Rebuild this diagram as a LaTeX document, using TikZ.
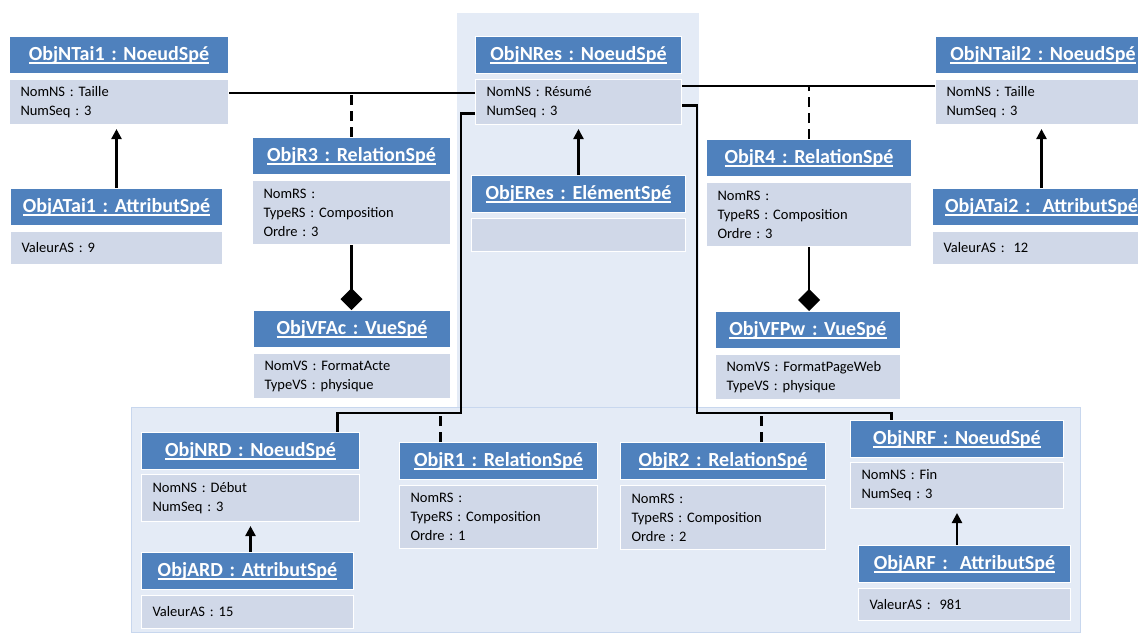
\documentclass[tikz,border=0pt]{standalone}
\usepackage{fontspec}
\setmainfont{Carlito}
\usepackage{xcolor}
\usepackage{tikz}
\usetikzlibrary{arrows.meta, positioning}

\definecolor{hdrblue}{HTML}{4F81BD}
\definecolor{bodyblue}{HTML}{D0D8E8}
\definecolor{panelblue}{HTML}{E4EBF6}
\definecolor{panelline}{HTML}{C8D7EE}

\frenchspacing
% fonts with tight word spaces
\newcommand{\hdrfont}{\fontsize{20}{24}\selectfont\bfseries\spaceskip=0.13em\relax}
\newcommand{\bdyfont}{\fontsize{14.5}{19}\selectfont\spaceskip=0.13em\relax}

% underlined object name
\newsavebox{\hdrbox}
\newcommand{\hdrtext}[1]{\sbox{\hdrbox}{#1}\rlap{\rule[-3.2pt]{\wd\hdrbox}{1.5pt}}\usebox{\hdrbox}}

\begin{document}
\begin{tikzpicture}[
    x=1pt, y=-1pt,
    hdr/.style={rectangle, fill=hdrblue, draw=white, line width=1pt, text=white,
                font=\hdrfont, text width=#1,
                align=center, inner sep=0pt, minimum height=37pt, anchor=north west},
    bdy/.style={rectangle, fill=bodyblue, draw=white, line width=1pt,
                font=\bdyfont, text width=#1,
                align=left, inner xsep=11pt, inner ysep=0pt},
    link/.style={line width=2.3pt},
    dlink/.style={line width=2.3pt, dash pattern=on 10pt off 6pt},
    comp/.style={line width=2.3pt, -{Diamond[length=22pt, width=22pt]}},
    inh/.style={line width=2.3pt, -{Triangle[length=10pt, width=10pt]}, shorten >=4pt}
  ]
  \useasboundingbox (0,0) rectangle (1138,633);

  % shaded zones
  \fill[panelblue] (457,13) rectangle (699,407);
  \draw[panelline, fill=panelblue, line width=0.8pt] (131,407) rectangle (1080,632);

  % taille 1
  \node[hdr=219pt] (ntai1) at (9,36) {\hdrtext{ObjNTai1 : NoeudSpé}};
  \node[bdy=197pt, minimum height=45pt, below=5pt of ntai1] (ntai1b) {NomNS : Taille\\NumSeq : 3};
  \node[hdr=212pt] (atai1) at (10,188) {\hdrtext{ObjATai1 : AttributSpé}};
  \node[bdy=190pt, minimum height=33pt, below=5pt of atai1] (atai1b) {ValeurAS : 9};

  % relation R3 and its view
  \node[hdr=198pt] (r3) at (252,137) {\hdrtext{ObjR3 : RelationSpé}};
  \node[bdy=176pt, minimum height=64pt, below=5pt of r3] (r3b) {NomRS :\\TypeRS : Composition\\Ordre : 3};
  \node[hdr=197pt] (vfac) at (253,310) {\hdrtext{ObjVFAc : VueSpé}};
  \node[bdy=175pt, minimum height=45pt, below=5pt of vfac] (vfacb) {NomVS : FormatActe\\TypeVS : physique};

  % resume
  \node[hdr=206pt] (nres) at (475,36) {\hdrtext{ObjNRes : NoeudSpé}};
  \node[bdy=184pt, minimum height=45pt, below=5pt of nres] (nresb) {NomNS : Résumé\\NumSeq : 3};
  \node[hdr=214pt] (eres) at (471,175) {\hdrtext{ObjERes : ElémentSpé}};
  \node[bdy=192pt, minimum height=33pt, below=5pt of eres] (eresb) {};

  % taille 2
  \node[hdr=215pt] (ntai2) at (935,36) {\hdrtext{ObjNTail2 : NoeudSpé}};
  \node[bdy=193pt, minimum height=45pt, below=5pt of ntai2] (ntai2b) {NomNS : Taille\\NumSeq : 3};
  \node[hdr=218pt] (atai2) at (932,188) {\hdrtext{ObjATai2 :\hspace{0.6em}AttributSpé}};
  \node[bdy=196pt, minimum height=33pt, below=5pt of atai2] (atai2b) {ValeurAS :\hspace{0.6em}12};

  % relation R4 and its view
  \node[hdr=205pt] (r4) at (706,139) {\hdrtext{ObjR4 : RelationSpé}};
  \node[bdy=183pt, minimum height=64pt, below=5pt of r4] (r4b) {NomRS :\\TypeRS : Composition\\Ordre : 3};
  \node[hdr=185pt] (vfpw) at (715,311) {\hdrtext{ObjVFPw : VueSpé}};
  \node[bdy=163pt, minimum height=45pt, below=5pt of vfpw] (vfpwb) {NomVS : FormatPageWeb\\TypeVS : physique};

  % debut
  \node[hdr=218pt] (nrd) at (141,432) {\hdrtext{ObjNRD : NoeudSpé}};
  \node[bdy=196pt, minimum height=47pt, below=4pt of nrd] (nrdb) {NomNS : Début\\NumSeq : 3};
  \node[hdr=212pt] (ard) at (141,552) {\hdrtext{ObjARD : AttributSpé}};
  \node[bdy=190pt, minimum height=33pt, below=5pt of ard] (ardb) {ValeurAS : 15};

  % relations R1, R2
  \node[hdr=198pt] (r1) at (399,442) {\hdrtext{ObjR1 : RelationSpé}};
  \node[bdy=176pt, minimum height=63pt, below=5pt of r1] (r1b) {NomRS :\\TypeRS : Composition\\Ordre : 1};
  \node[hdr=205pt] (r2) at (620,442) {\hdrtext{ObjR2 : RelationSpé}};
  \node[bdy=183pt, minimum height=64pt, below=5pt of r2] (r2b) {NomRS :\\TypeRS : Composition\\Ordre : 2};

  % fin
  \node[hdr=213pt] (nrf) at (850,420) {\hdrtext{ObjNRF : NoeudSpé}};
  \node[bdy=191pt, minimum height=46pt, below=4pt of nrf] (nrfb) {NomNS : Fin\\NumSeq : 3};
  \node[hdr=212pt] (arf) at (858,545) {\hdrtext{ObjARF :\hspace{0.6em}AttributSpé}};
  \node[bdy=190pt, minimum height=32pt, below=5pt of arf] (arfb) {ValeurAS :\hspace{0.6em}981};

  % top links
  \coordinate (tl) at ([yshift=9pt]ntai1b.east);
  \coordinate (tr) at ([yshift=16pt]ntai2b.west);
  \draw[link] (tl) -- (tl -| nresb.west);
  \draw[link] (tr) -- (tr -| nresb.east);
  \draw[dlink] (r3.north) -- (r3.north |- tl);
  \draw[dlink] (r4.north) -- (r4.north |- tr);

  % bottom links
  \coordinate (jl) at (461,413);
  \coordinate (jr) at (697,413);
  \draw[link] ([yshift=-11.5pt]nresb.west) -| (jl) -| ([xshift=87pt]nrd.north);
  \draw[link] ([yshift=-3.5pt]nresb.east) -| (jr) -| ([xshift=-65.5pt]nrf.north);
  \draw[dlink] ([xshift=-58pt]r1.north) -- ([xshift=-58pt]r1.north |- jl);
  \draw[dlink] ([xshift=38.5pt]r2.north) -- ([xshift=38.5pt]r2.north |- jr);

  % compositions
  \draw[comp] (r3b.south) -- (r3b.south |- vfac.north);
  \draw[comp] (r4b.south) -- (r4b.south |- vfpw.north);

  % attributes and elements
  \draw[inh] (atai1.north) -- (atai1.north |- ntai1b.south);
  \draw[inh] (eres.north) -- (nresb.south);
  \draw[inh] (atai2.north) -- (atai2.north |- ntai2b.south);
  \draw[inh] (ard.north -| nrdb.south) -- (nrdb.south);
  \draw[inh] (arf.north -| nrfb.south) -- (nrfb.south);
\end{tikzpicture}
\end{document}
